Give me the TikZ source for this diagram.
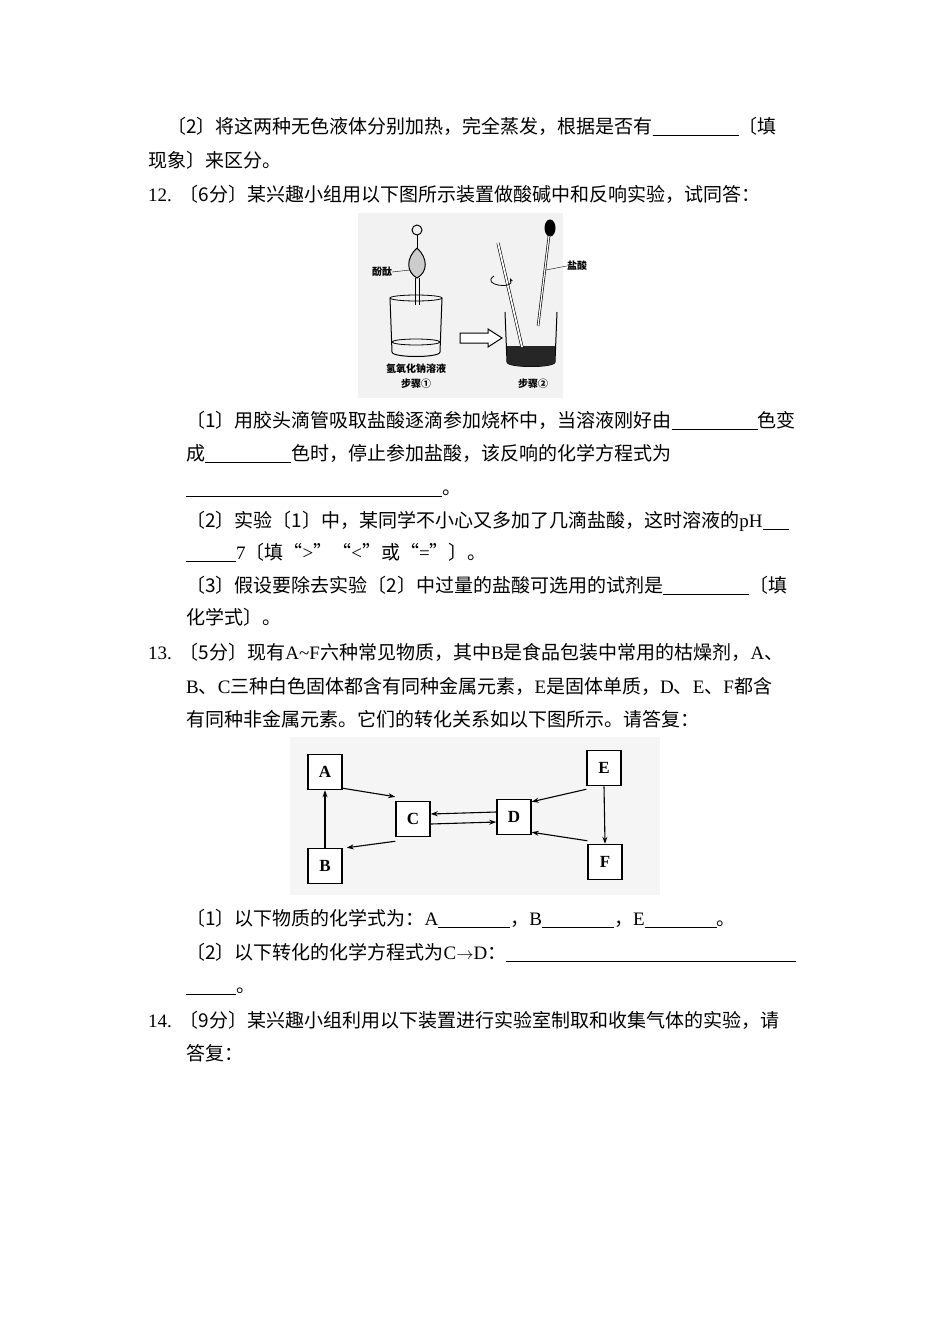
\documentclass[tikz,border=0pt]{standalone}
\usepackage{fontspec}
\setmainfont{Liberation Serif}
\newfontfamily\cjk{Noto Sans CJK SC}
\usetikzlibrary{arrows.meta}
\begin{document}
\begin{tikzpicture}[x=1pt,y=-1pt,
  ln/.style={anchor=base west,inner sep=0pt,font=\fontsize{19}{19}\selectfont},
  bx/.style={draw,line width=1.5pt,minimum width=34pt,minimum height=35pt,font=\bfseries\fontsize{17}{17}\selectfont,fill=white},
  ar/.style={-{Stealth[length=7pt,width=5pt]},line width=1.1pt},
  lab/.style={font=\cjk\bfseries\fontsize{10}{10}\selectfont,inner sep=0pt}]
\useasboundingbox (0,0) rectangle (950,1344);
\fill[white] (0,0) rectangle (950,1344);
\def\u{\rule[-2pt]{86pt}{0.5pt}}
\node[ln] (l1) at (167,133) {{\cjk 〔2〕将这两种无色液体分别加热，完全蒸发，根据是否有}\u{\cjk 〔填}};
\node[ln] (l2) at (148,167) {\cjk 现象〕来区分。};
\node[ln] (l3) at (148,201) {12.\hspace{8pt}{\cjk 〔6分〕某兴趣小组用以下图所示装置做酸碱中和反响实验，试同答：}};
\node[ln] (l4) at (186,427) {{\cjk 〔1〕用胶头滴管吸取盐酸逐滴参加烧杯中，当溶液刚好由}\u{\cjk 色变}};
\node[ln] (l5) at (186,460) {{\cjk 成}\u{\cjk 色时，停止参加盐酸，该反响的化学方程式为}};
\node[ln] (l6) at (186,494) {\rule[-2pt]{256pt}{0.5pt}{\cjk 。}};
\node[ln] (l7) at (186,527) {{\cjk 〔2〕实验〔1〕中，某同学不小心又多加了几滴盐酸，这时溶液的}pH\rule[-2pt]{26pt}{0.5pt}};
\node[ln] (l8) at (186,559) {\rule[-2pt]{50pt}{0.5pt}7{\cjk 〔填“}>{\cjk ”“}<{\cjk ”或“}={\cjk ”〕。}};
\node[ln] (l9) at (186,592) {{\cjk 〔3〕假设要除去实验〔2〕中过量的盐酸可选用的试剂是}\u{\cjk 〔填}};
\node[ln] (l10) at (186,624) {\cjk 化学式〕。};
\node[ln] (l11) at (148,659) {13.\hspace{8pt}{\cjk 〔5分〕现有}A\textasciitilde F{\cjk 六种常见物质，其中}B{\cjk 是食品包装中常用的枯燥剂，}A{\cjk 、}};
\node[ln] (l12) at (186,693) {B{\cjk 、}C{\cjk 三种白色固体都含有同种金属元素，}E{\cjk 是固体单质，}D{\cjk 、}E{\cjk 、}F{\cjk 都含}};
\node[ln] (l13) at (186,726) {\cjk 有同种非金属元素。它们的转化关系如以下图所示。请答复：};
\node[ln] (l14) at (186,925) {{\cjk 〔1〕以下物质的化学式为：}A\rule[-2pt]{72pt}{0.5pt}{\cjk ，}B\rule[-2pt]{72pt}{0.5pt}{\cjk ，}E\rule[-2pt]{72pt}{0.5pt}{\cjk 。}};
\node[ln] (l15) at (186,959) {{\cjk 〔2〕以下转化的化学方程式为}C$\to$D{\cjk ：}\rule[-2pt]{290pt}{0.5pt}};
\node[ln] (l16) at (186,992) {\rule[-2pt]{50pt}{0.5pt}{\cjk 。}};
\node[ln] (l17) at (148,1027) {14.\hspace{8pt}{\cjk 〔9分〕某兴趣小组利用以下装置进行实验室制取和收集气体的实验，请}};
\node[ln] (l18) at (186,1060) {\cjk 答复：};
% apparatus picture
\fill[gray!10] (358,213) rectangle (563,398);
\draw[line width=1pt] (390,298) -- (392,352) .. controls (392,358) and (440,358) .. (440,352) -- (442,298);
\draw[line width=0.8pt] (416,298) ellipse (26 and 3);
\draw[line width=0.8pt] (416,342) ellipse (24 and 3);
\draw[line width=1pt] (417,230) circle (5);
\draw[line width=1pt] (417,235) -- (417,248);
\draw[line width=1pt,fill=gray!40] (417,248) .. controls (406,258) and (406,272) .. (417,278) .. controls (428,272) and (428,258) .. (417,248);
\draw[line width=1pt] (415,278) -- (415,305) (419,278) -- (419,305);
\node[lab] (fen) at (382,272) {酚酞};
\draw (fen.east) -- (410,270);
\draw[line width=1pt,fill=white] (460,333) -- (488,333) -- (488,329) -- (502,338) -- (488,347) -- (488,343) -- (460,343) -- cycle;
\draw[line width=1pt] (505,312) -- (507,362) .. controls (507,368) and (555,368) .. (555,362) -- (557,312);
\fill[black!85] (507,346) -- (507,362) .. controls (507,368) and (555,368) .. (555,362) -- (555,346) -- cycle;
\draw[line width=3pt] (498,243) -- (522,347);
\draw[line width=1.8pt,white] (498,243) -- (522,347);
\draw[line width=0.8pt,-{Stealth[length=4pt]}] (494,276) .. controls (480,285) and (515,290) .. (510,278);
\draw[line width=1pt,fill=black] (550,228) ellipse (5 and 8);
\draw[line width=2.5pt] (549,236) -- (538,326);
\draw[line width=1.2pt,white] (549,236) -- (538,326);
\node[lab] (yan) at (577,266) {盐酸};
\draw (yan.west) -- (546,270);
\node[lab] (n1) at (416,369) {氢氧化钠溶液};
\node[lab] (s1) at (416,384) {步骤①};
\node[lab] (s2) at (533,384) {步骤②};
% A-F diagram
\fill[gray!8] (290,737) rectangle (660,895);
\node[bx] (A) at (325,772) {A};
\node[bx] (B) at (325,866) {B};
\node[bx] (C) at (413,819) {C};
\node[bx] (D) at (514,817) {D};
\node[bx] (E) at (604,768) {E};
\node[bx] (F) at (605,862) {F};
\draw[ar] (A.south east) ++(0,-2) -- ([yshift=4pt]C.north west);
\draw[ar] (B.north) -- (A.south);
\draw[ar] ([yshift=-4pt]C.south west) -- ([xshift=4pt]B.north east);
\draw[ar] ([yshift=-5pt]C.east) -- ([yshift=-5pt]D.west);
\draw[ar] ([yshift=5pt]D.west) -- ([yshift=5pt]C.east);
\draw[ar] ([yshift=-3pt]E.south west) -- ([yshift=-3pt]D.north east);
\draw[ar] (E.south) -- (F.north);
\draw[ar] ([yshift=3pt]F.north west) -- ([yshift=3pt]D.south east);
\end{tikzpicture}
\end{document}
